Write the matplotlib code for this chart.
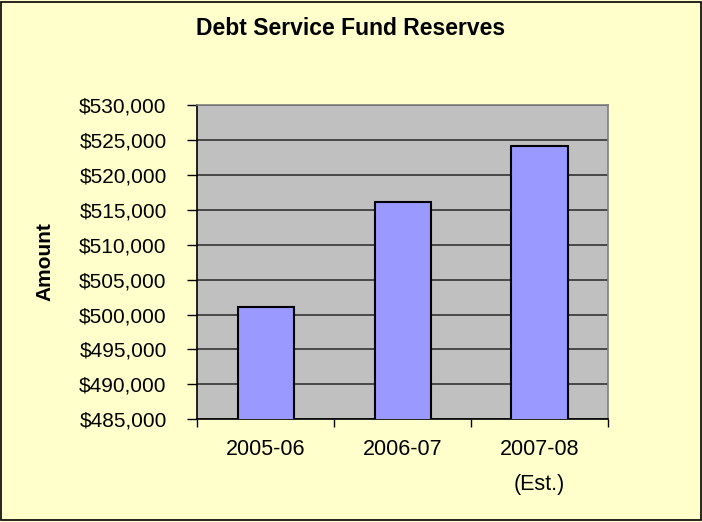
import numpy as np
import matplotlib.pyplot as plt
from matplotlib.ticker import FuncFormatter, MultipleLocator
from matplotlib.patches import Rectangle

plt.rcParams['font.family'] = ['Liberation Sans', 'DejaVu Sans']

years = ['2005-06', '2006-07', '2007-08\n(Est.)']
reserves = [501100, 516100, 524200]

fig = plt.figure(figsize=(7.02, 5.22), dpi=100, facecolor='#FFFFCC')
ax = fig.add_axes([0.281, 0.197, 0.585, 0.601])
ax.set_facecolor('#C0C0C0')

x = np.arange(len(years))
ax.bar(x, reserves, width=0.41, color='#9999FF', edgecolor='black', linewidth=1.5, zorder=3)

ax.set_ylim(485000, 530000)
ax.set_xlim(-0.5, 2.5)
ax.yaxis.set_major_locator(MultipleLocator(5000))
ax.yaxis.set_major_formatter(FuncFormatter(lambda v, p: '${:,.0f}'.format(v)))
ax.grid(axis='y', color='#333333', linewidth=1.2, zorder=1)

ax.set_xticks([-0.5, 0.5, 1.5, 2.5])
ax.set_xticklabels([])
ax.set_xticks(x, minor=True)
ax.set_xticklabels(years, minor=True, fontsize=15.5, linespacing=1.9, va='top')
ax.tick_params(axis='x', which='minor', length=0, pad=14)
ax.tick_params(axis='x', which='major', length=6, width=1, direction='out')
ax.tick_params(axis='y', length=7, width=1, labelsize=15, pad=15)

for s in ['top', 'right']:
    ax.spines[s].set_color('#808080')
    ax.spines[s].set_linewidth(1.2)
for s in ['left', 'bottom']:
    ax.spines[s].set_color('black')
    ax.spines[s].set_linewidth(1.2)

fig.text(0.064, 0.498, 'Amount', rotation=90, ha='center', va='center',
         fontsize=15, fontweight='bold')
fig.text(0.5, 0.946, 'Debt Service Fund Reserves', ha='center', va='center',
         fontsize=16.5, fontweight='bold')

fig.patches.append(Rectangle((0.002, 0.003), 0.996, 0.994, transform=fig.transFigure,
                             fill=False, edgecolor='black', linewidth=1.2))

plt.savefig('out.png', dpi=100, facecolor=fig.get_facecolor())
